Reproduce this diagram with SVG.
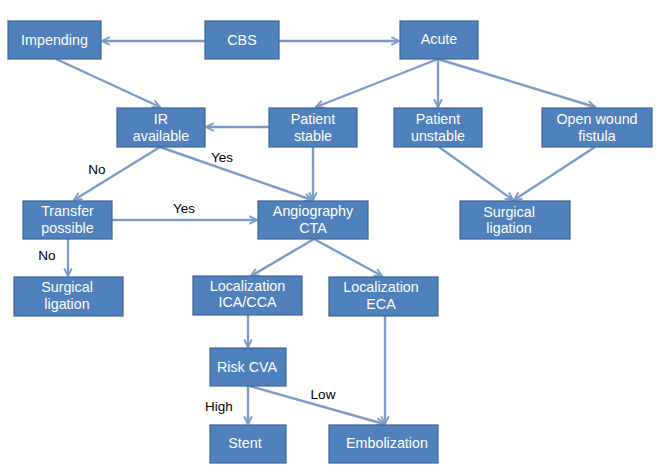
<svg xmlns="http://www.w3.org/2000/svg" width="662" height="467" viewBox="0 0 662 467">
<style>
.box{fill:#4f81bd;stroke:#3c6696;stroke-width:1.2}
.t{font-family:"Liberation Sans",Arial,sans-serif;font-size:14.3px;fill:#fff;text-anchor:middle}
.lbl{font-family:"Liberation Sans",Arial,sans-serif;font-size:13.5px;fill:#000;text-anchor:middle}
.c{stroke:#7b9cc8;stroke-width:2.4;fill:none;marker-end:url(#ah)}
</style>
<defs>
<marker id="ah" viewBox="0 0 10 10" refX="9" refY="5" markerWidth="4" markerHeight="4" orient="auto" markerUnits="strokeWidth">
<path d="M1,1 L9,5 L1,9" fill="none" stroke="#7b9cc8" stroke-width="2"/>
</marker>
</defs>
<rect width="662" height="467" fill="#fff"/>
<g id="connectors">
<line class="c" x1="205" y1="41" x2="102" y2="41"/>
<line class="c" x1="279" y1="41" x2="399" y2="41"/>
<line class="c" x1="56" y1="59" x2="160" y2="107"/>
<line class="c" x1="438" y1="59" x2="316" y2="107"/>
<line class="c" x1="438" y1="59" x2="438" y2="107"/>
<line class="c" x1="438" y1="59" x2="595" y2="107"/>
<line class="c" x1="269" y1="127" x2="206" y2="127"/>
<line class="c" x1="313" y1="147" x2="313" y2="200"/>
<line class="c" x1="160" y1="147" x2="74" y2="200"/>
<line class="c" x1="160" y1="147" x2="312" y2="200"/>
<line class="c" x1="439" y1="147" x2="513" y2="200"/>
<line class="c" x1="595" y1="147" x2="514" y2="200"/>
<line class="c" x1="112" y1="220" x2="257" y2="220"/>
<line class="c" x1="68" y1="239" x2="68" y2="276"/>
<line class="c" x1="314" y1="239" x2="251" y2="276"/>
<line class="c" x1="314" y1="239" x2="382" y2="276"/>
<line class="c" x1="248" y1="315" x2="248" y2="347"/>
<line class="c" x1="385" y1="316" x2="385" y2="424"/>
<line class="c" x1="248" y1="386" x2="248" y2="424"/>
<line class="c" x1="250" y1="386" x2="384" y2="424"/>
<text class="lbl" x="97" y="174">No</text>
<text class="lbl" x="222" y="162">Yes</text>
<text class="lbl" x="184" y="213">Yes</text>
<text class="lbl" x="47" y="260">No</text>
<text class="lbl" x="219" y="411">High</text>
<text class="lbl" x="323" y="399">Low</text>
</g>
<g id="impending"><rect class="box" x="8" y="21" width="93" height="38"/><text class="t" x="54.5" y="45">Impending</text></g>
<g id="cbs"><rect class="box" x="205" y="21" width="74" height="38"/><text class="t" x="242" y="45">CBS</text></g>
<g id="acute"><rect class="box" x="400" y="21" width="78" height="38"/><text class="t" x="439" y="44">Acute</text></g>
<g id="ir"><rect class="box" x="117" y="108" width="88" height="39"/><text class="t" x="161" y="124">IR</text><text class="t" x="161" y="141">available</text></g>
<g id="stable"><rect class="box" x="269" y="108" width="88" height="39"/><text class="t" x="313" y="124">Patient</text><text class="t" x="313" y="141">stable</text></g>
<g id="unstable"><rect class="box" x="394" y="108" width="88" height="39"/><text class="t" x="438" y="124">Patient</text><text class="t" x="438" y="141">unstable</text></g>
<g id="openwound"><rect class="box" x="542" y="108" width="110" height="39"/><text class="t" x="597" y="124">Open wound</text><text class="t" x="597" y="141">fistula</text></g>
<g id="transfer"><rect class="box" x="23" y="201" width="89" height="38"/><text class="t" x="67.5" y="216">Transfer</text><text class="t" x="67.5" y="233">possible</text></g>
<g id="angio"><rect class="box" x="258" y="201" width="110" height="38"/><text class="t" x="313" y="216">Angiography</text><text class="t" x="313" y="233">CTA</text></g>
<g id="surg-right"><rect class="box" x="460" y="201" width="110" height="38"/><text class="t" x="509" y="217">Surgical</text><text class="t" x="509" y="233">ligation</text></g>
<g id="surg-left"><rect class="box" x="14" y="277" width="109" height="39"/><text class="t" x="67" y="292">Surgical</text><text class="t" x="67" y="309">ligation</text></g>
<g id="ica"><rect class="box" x="193" y="276" width="109" height="39"/><text class="t" x="247.5" y="291">Localization</text><text class="t" x="247.5" y="307">ICA/CCA</text></g>
<g id="eca"><rect class="box" x="329" y="277" width="109" height="39"/><text class="t" x="381" y="292">Localization</text><text class="t" x="381" y="309">ECA</text></g>
<g id="riskcva"><rect class="box" x="210" y="348" width="76" height="38"/><text class="t" x="247" y="372">Risk CVA</text></g>
<g id="stent"><rect class="box" x="210" y="425" width="76" height="38"/><text class="t" x="245" y="448">Stent</text></g>
<g id="emb"><rect class="box" x="329" y="425" width="109" height="38"/><text class="t" x="387" y="448">Embolization</text></g>
</svg>
